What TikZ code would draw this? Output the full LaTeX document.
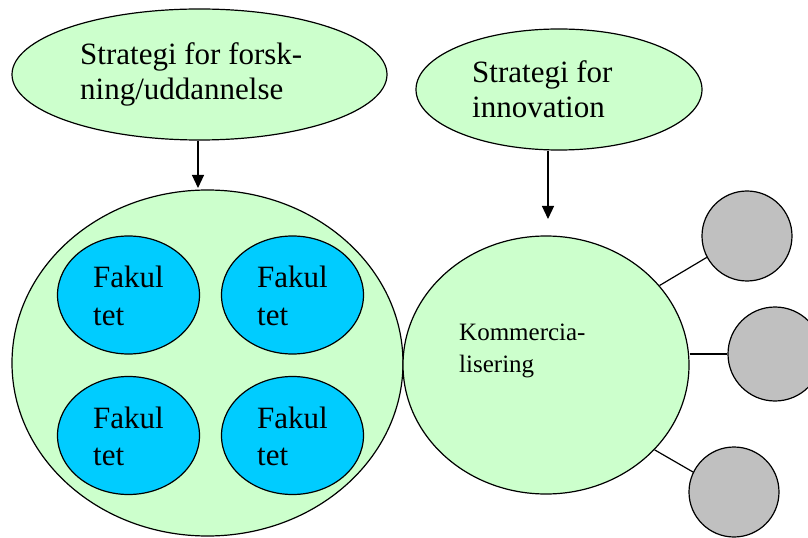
\documentclass[tikz,border=0pt]{standalone}
\usepackage{fontspec}
\setmainfont{Liberation Serif}
\usetikzlibrary{shapes.geometric,arrows.meta}
\definecolor{lgreen}{HTML}{CCFFCC}
\definecolor{fblue}{HTML}{00CCFF}
\definecolor{cgray}{HTML}{C0C0C0}
\tikzset{
  oval/.style={ellipse,draw=black,line width=1.2bp,inner sep=0pt},
  greenoval/.style={oval,fill=lgreen},
  faknode/.style={oval,fill=fblue,minimum width=142bp,minimum height=118bp},
  graydot/.style={circle,draw=black,line width=1.2bp,fill=cgray,inner sep=0pt},
  lbl/.style={anchor=base west,inner sep=0pt},
  conn/.style={line width=1.2bp},
  arr/.style={line width=1.2bp,-{Triangle[width=12bp,length=13bp]}}
}
\newcommand{\twolines}[4]{{\fontsize{#1}{#2}\selectfont\begin{tabular}[t]{@{}l@{}}#3\\#4\end{tabular}}}
\begin{document}
\begin{tikzpicture}[x=1bp,y=-1bp]
\useasboundingbox (0,0) rectangle (808,538);
% top ellipses
\node[greenoval,minimum width=375bp,minimum height=131bp] (s1) at (199.5,74.5) {};
\node[greenoval,minimum width=286bp,minimum height=121bp] (s2) at (559,89.5) {};
\node[lbl] (s1t) at (80,65) {\twolines{31bp}{35bp}{Strategi for forsk-}{ning/uddannelse}};
\node[lbl] (s2t) at (472,83) {\twolines{31bp}{35bp}{Strategi for}{innovation}};
% big left circle
\node[greenoval,minimum width=391bp,minimum height=346bp] (fac) at (207.5,363) {};
\node[faknode] (f1) at (128.5,295) {};
\node[faknode] (f2) at (292.5,295) {};
\node[faknode] (f3) at (128.5,435.5) {};
\node[faknode] (f4) at (292.5,435.5) {};
\node[lbl] (f1t) at (93,288) {\twolines{31bp}{37bp}{Fakul}{tet}};
\node[lbl] (f2t) at (257,288) {\twolines{31bp}{37bp}{Fakul}{tet}};
\node[lbl] (f3t) at (93,428) {\twolines{31bp}{37bp}{Fakul}{tet}};
\node[lbl] (f4t) at (257,428) {\twolines{31bp}{37bp}{Fakul}{tet}};
% right circle
\node[greenoval,minimum width=286bp,minimum height=258bp] (k) at (546,365) {};
\node[lbl] (kt) at (459,340) {\twolines{25bp}{32bp}{Kommercia-}{lisering}};
% gray circles
\node[graydot,minimum size=90bp] (g1) at (747,236) {};
\node[graydot,minimum size=94bp] (g2) at (775,354) {};
\node[graydot,minimum size=90bp] (g3) at (734,492) {};
% arrows
\coordinate (t1) at (198,188);
\coordinate (t2) at (548,219);
\draw[arr] (s1.south -| t1) -- (t1);
\draw[arr] (s2.south -| t2) -- (t2);
% connectors
\draw[conn] (k.35) -- (g1.208);
\draw[conn] (g2.west -| k.east) -- (g2.west);
\draw[conn] (k.-38) -- (g3.154);
\end{tikzpicture}
\end{document}
